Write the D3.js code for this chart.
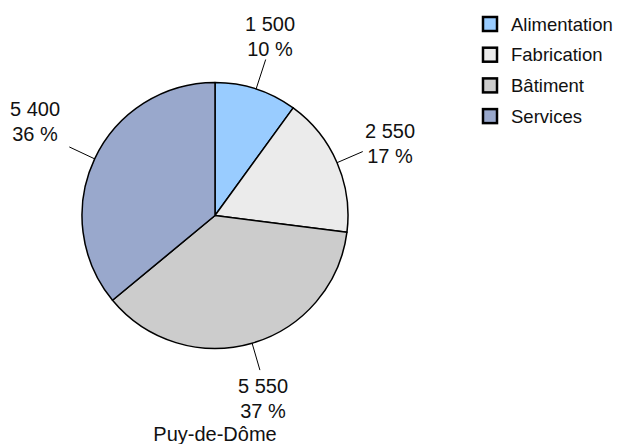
<!DOCTYPE html>
<html>
<head>
<meta charset="utf-8">
<script src="https://cdn.jsdelivr.net/npm/d3@7"></script>
<style>
  body { margin: 0; background: #fff; }
  text { font-family: "Liberation Sans", Arial, sans-serif; fill: #111; }
</style>
</head>
<body>
<div id="chart"></div>
<script>
// dati
var categorie = ["Alimentation", "Fabrication", "Bâtiment", "Services"];
var valori = [1500, 2550, 5550, 5400];
var etichette = ["1 500", "2 550", "5 550", "5 400"];
var percentuali = ["10 %", "17 %", "37 %", "36 %"];
var colori = ["#99ccff", "#ebebeb", "#cccccc", "#99a8cc"];
var titolo = "Puy-de-Dôme";

var W = 630, H = 444;
var cx = 215, cy = 215.5, r = 133;

var svg = d3.select("#chart").append("svg")
  .attr("width", W).attr("height", H);

var g = svg.append("g").attr("transform", "translate(" + cx + "," + cy + ")");

var pie = d3.pie().sort(null).value(function(d){ return d; });
var arcs = pie(valori);
var arc = d3.arc().innerRadius(0).outerRadius(r);

//fette
g.selectAll("path.slice")
  .data(arcs)
  .enter()
  .append("path")
  .attr("class", "slice")
  .attr("d", arc)
  .style("fill", function(d, i){ return colori[i]; })
  .style("stroke", "#000")
  .style("stroke-width", "1.5px")
  .style("stroke-linejoin", "round");

//linee guida verso le etichette
function punto(d, rr){
  var a = (d.startAngle + d.endAngle) / 2;
  return [rr * Math.sin(a), -rr * Math.cos(a)];
}
g.selectAll("line.leader")
  .data(arcs)
  .enter()
  .append("line")
  .attr("class", "leader")
  .attr("x1", function(d){ return punto(d, r)[0]; })
  .attr("y1", function(d){ return punto(d, r)[1]; })
  .attr("x2", function(d, i){ return punto(d, i == 0 ? 164 : 161)[0]; })
  .attr("y2", function(d, i){ return punto(d, i == 0 ? 164 : 161)[1]; })
  .style("stroke", "#000")
  .style("stroke-width", "1px");

//posizione del testo (centro, baseline della prima riga) relativa al centro della torta
var posEtichette = [[55, -185], [175, -78], [48, 177], [-180, -100]];
var lab = g.selectAll("text.lab")
  .data(arcs)
  .enter()
  .append("text")
  .attr("class", "lab")
  .attr("text-anchor", "middle")
  .style("font-size", "20px");
lab.append("tspan")
  .attr("x", function(d, i){ return posEtichette[i][0]; })
  .attr("y", function(d, i){ return posEtichette[i][1]; })
  .text(function(d, i){ return etichette[i]; });
lab.append("tspan")
  .attr("x", function(d, i){ return posEtichette[i][0]; })
  .attr("y", function(d, i){ return posEtichette[i][1] + 25; })
  .text(function(d, i){ return percentuali[i]; });

svg.append("text")
  .attr("x", cx).attr("y", 441)
  .attr("text-anchor", "middle")
  .style("font-size", "20px")
  .text(titolo);

//legenda
var leg = svg.selectAll("g.leg")
  .data(categorie)
  .enter()
  .append("g")
  .attr("class", "leg")
  .attr("transform", function(d, i){ return "translate(483," + (17 + i * 30.7) + ")"; });
leg.append("rect")
  .attr("width", 14).attr("height", 14)
  .style("fill", function(d, i){ return colori[i]; })
  .style("stroke", "#000")
  .style("stroke-width", "2.5px");
leg.append("text")
  .attr("x", 28).attr("y", 13.5)
  .style("font-size", "18.5px")
  .text(function(d){ return d; });
</script>
</body>
</html>
